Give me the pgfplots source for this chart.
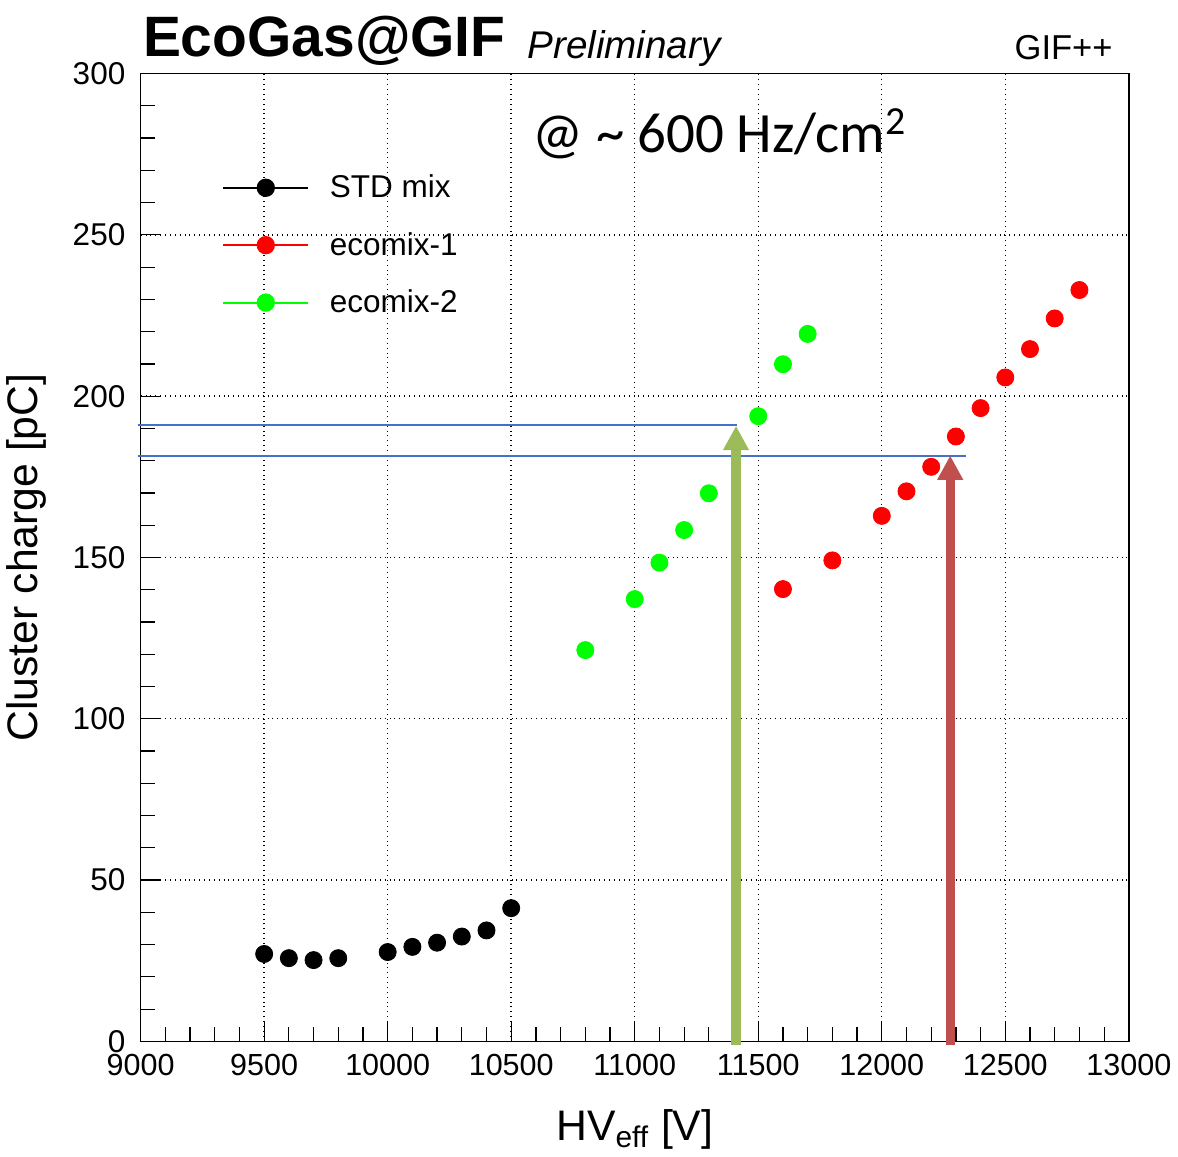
\documentclass[border=0pt]{standalone}
\usepackage{fontspec}
\setmainfont{Liberation Sans}
\newfontfamily\calibri{Carlito}
\usepackage{pgfplots}
\pgfplotsset{compat=1.18}
\usetikzlibrary{arrows.meta}

\definecolor{lineblue}{RGB}{68,114,196}
\definecolor{arrowgreen}{RGB}{155,187,89}
\definecolor{arrowred}{RGB}{192,80,77}

\begin{document}
\begin{tikzpicture}
\begin{axis}[
    scale only axis,
    width=486pt,
    height=476pt,
    xmin=9000, xmax=13000,
    ymin=0, ymax=300,
    xtick={9000,9500,...,13000},
    ytick={0,50,...,300},
    minor x tick num=4,
    minor y tick num=4,
    tick pos=left,
    tick align=inside,
    major tick length=10pt,
    minor tick length=7pt,
    tick style={black, line width=0.6pt},
    axis line style={line width=0.7pt},
    grid=major,
    major grid style={black, dotted, line width=0.7pt},
    scaled ticks=false,
    /pgf/number format/assume math mode=true,
    xticklabel style={/pgf/number format/1000 sep={}, font=\fontsize{15}{17}\selectfont, yshift=-3pt},
    yticklabel style={font=\fontsize{15.5}{17}\selectfont, xshift=-4pt},
    xlabel={HV\textsubscript{eff} [V]},
    ylabel={Cluster charge [pC]},
    xlabel style={font=\fontsize{21}{23}\selectfont, at={(rel axis cs:0.5,0)}, yshift=-30pt},
    ylabel style={font=\fontsize{21}{23}\selectfont, yshift=6pt},
    clip=false,
    legend style={at={(rel axis cs:0.082,0.9)}, anchor=north west, draw=none, fill=none,
        font=\fontsize{15.5}{18}\selectfont, row sep=11.5pt, column sep=8pt, inner sep=0pt},
    legend cell align=left,
    legend image code/.code={\draw[mark repeat=2,mark phase=2,#1] plot coordinates {(0pt,0pt)(21pt,0pt)(42pt,0pt)};},
]
% reference lines and arrows
\addplot[lineblue, line width=1pt, forget plot] coordinates {(8988,191.1) (11413,191.1)};
\addplot[lineblue, line width=1pt, forget plot] coordinates {(8988,181.5) (12342,181.5)};
\addplot[arrowgreen, line width=4.5pt, forget plot, -{Triangle[width=12pt,length=12pt]}] coordinates {(11410,-1) (11410,190.8)};
\addplot[arrowred, line width=4.5pt, forget plot, -{Triangle[width=12pt,length=12pt]}] coordinates {(12277,-1) (12277,181.6)};

% legend entries
\addlegendimage{black, line width=1pt, mark=*, mark size=4pt}
\addlegendentry{STD mix}
\addlegendimage{red, line width=1pt, mark=*, mark size=4pt}
\addlegendentry{ecomix-1}
\addlegendimage{green, line width=1pt, mark=*, mark size=4pt}
\addlegendentry{ecomix-2}

% STD mix
\addplot[only marks, mark=*, mark size=4.2pt, black, forget plot] coordinates {
(9500,27.1) (9600,25.8) (9700,25.2) (9800,25.8) (10000,27.7)
(10100,29.3) (10200,30.6) (10300,32.5) (10400,34.4) (10500,41.3)};
% ecomix-1
\addplot[only marks, mark=*, mark size=4.2pt, red, forget plot] coordinates {
(11600,140.2) (11800,149.1) (12000,162.9) (12100,170.5) (12200,178.1)
(12300,187.5) (12400,196.3) (12500,205.8) (12600,214.6) (12700,224.1) (12800,232.9)};
% ecomix-2
\addplot[only marks, mark=*, mark size=4.2pt, green, forget plot] coordinates {
(10800,121.3) (11000,137.1) (11100,148.4) (11200,158.5) (11300,169.9)
(11500,193.8) (11600,209.9) (11700,219.3)};

% titles
\node[anchor=base west, inner sep=0pt, font=\fontsize{28}{30}\selectfont\bfseries] at (rel axis cs:0.002,1.018) {EcoGas@GIF};
\node[anchor=base west, inner sep=0pt, font=\fontsize{19}{21}\selectfont\itshape] at (rel axis cs:0.391,1.016) {Preliminary};
\node[anchor=base east, inner sep=0pt, font=\fontsize{17}{19}\selectfont] at (rel axis cs:0.984,1.014) {GIF++};
\node[anchor=base, inner sep=0pt, font=\fontsize{28}{30}\selectfont\calibri] at (axis cs:11343,275.5) {@ \textasciitilde{} 600 Hz/cm\textsuperscript{2}};
% keep a little room above the title
\path (rel axis cs:0,1.076);
\end{axis}
\end{tikzpicture}
\end{document}
